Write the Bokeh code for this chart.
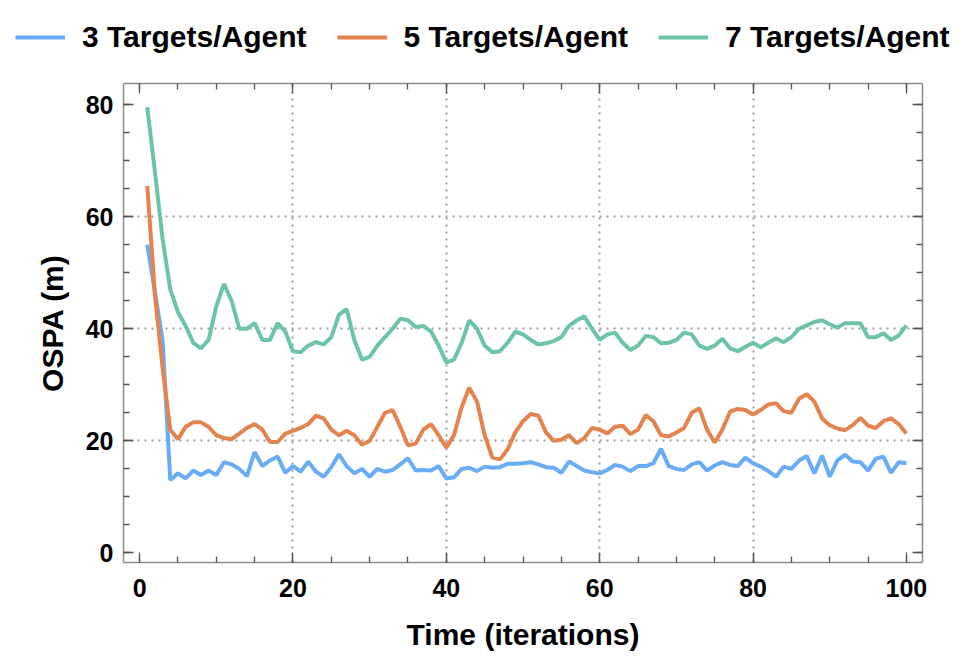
from bokeh.plotting import figure
from bokeh.models import (Range1d, LinearAxis, SingleIntervalTicker, FixedTicker,
                          Legend, LegendItem, CustomJSTickFormatter, Grid)
from bokeh.embed import file_html
from bokeh.resources import INLINE

iterations = list(range(1, 101))

targets3 = [55, 46.5, 38, 13.0, 14.2, 13.3, 14.7, 13.9, 14.7, 13.9,
            16.2, 15.8, 15.0, 13.7, 18.0, 15.5, 16.5, 17.2, 14.3, 15.5,
            14.5, 16.3, 14.5, 13.6, 15.3, 17.6, 15.5, 14.2, 15.0, 13.6,
            15.0, 14.5, 14.8, 15.8, 16.9, 14.7, 14.8, 14.7, 15.5, 13.3,
            13.5, 15.0, 15.2, 14.6, 15.4, 15.2, 15.3, 15.9, 15.9, 16.0,
            16.2, 15.8, 15.3, 15.2, 14.3, 16.3, 15.5, 14.7, 14.4, 14.2,
            14.8, 15.7, 15.4, 14.6, 15.5, 15.5, 16.0, 18.6, 15.5, 15.0,
            14.8, 15.8, 16.2, 14.7, 15.6, 16.2, 15.7, 15.5, 17.0, 16.0,
            15.4, 14.6, 13.6, 15.4, 15.0, 16.5, 17.3, 14.2, 17.4, 13.6,
            16.5, 17.5, 16.3, 16.2, 14.7, 16.8, 17.2, 14.3, 16.2, 16.0]

targets5 = [65.5, 46, 33, 22, 20.3, 22.5, 23.3, 23.3, 22.5, 21,
            20.5, 20.3, 21.3, 22.3, 23, 22, 19.8, 19.8, 21.3, 21.8,
            22.3, 23, 24.5, 24, 22, 21, 21.8, 21, 19.3, 20,
            22.5, 25, 25.5, 22.5, 19.2, 19.5, 22, 23, 21, 18.8,
            21, 26, 29.5, 27, 21, 17, 16.7, 18.5, 21.5, 23.5,
            24.8, 24.5, 21.5, 20, 20.2, 21, 19.6, 20.5, 22.3, 22,
            21.3, 22.5, 22.7, 21.2, 22, 24.6, 23.5, 21, 20.8, 21.5,
            22.3, 25, 25.8, 22, 19.7, 22, 25.2, 25.7, 25.5, 24.7,
            25.5, 26.5, 26.7, 25.3, 25, 27.5, 28.3, 27, 24, 22.8,
            22.2, 21.9, 22.8, 24.1, 22.7, 22.3, 23.5, 24, 23, 21.3]

targets7 = [79.5, 68, 56, 47, 43, 40.5, 37.5, 36.5, 38, 44,
            48, 45, 40, 40, 41, 38, 38, 41, 39.5, 36,
            35.8, 37, 37.6, 37.2, 38.5, 42.5, 43.5, 38, 34.5, 35,
            37, 38.5, 40, 41.8, 41.5, 40.3, 40.5, 39.5, 37, 34,
            34.5, 37.5, 41.5, 40, 37, 35.8, 36, 37.5, 39.5, 39,
            38, 37.2, 37.4, 37.8, 38.5, 40.5, 41.5, 42.2, 40, 38,
            39, 39.3, 37.5, 36.2, 37, 38.7, 38.5, 37.4, 37.5, 38,
            39.3, 39, 37, 36.4, 37, 38.2, 36.5, 36, 36.8, 37.5,
            36.7, 37.5, 38.3, 37.6, 38.5, 40, 40.6, 41.2, 41.5, 40.8,
            40.2, 41, 41, 41, 38.5, 38.5, 39.2, 38, 38.8, 40.6]

series_labels = ["3 Targets/Agent", "5 Targets/Agent", "7 Targets/Agent"]
series_colors = ["#68acf8", "#e5834f", "#6cc4a8"]
x_grid_ticks = [20, 40, 60, 80]
y_grid_ticks = [20, 40, 60]

# visible plot box in data units
X0, X1 = -2.1, 102.1
Y0, Y1 = -1.7, 83.8

FONT = "Liberation Sans"
LINE_W = 4

# The frame covers the whole canvas so that the legend above the box is not
# clipped; the box itself is drawn by axes with fixed locations.
W, H = 965, 659
BOX_L, BOX_R, BOX_T, BOX_B = 123, 922, 82.7, 562   # pixel edges of the visible box
sx = (BOX_R - BOX_L) / (X1 - X0)
sy = (BOX_B - BOX_T) / (Y1 - Y0)
x_range = Range1d(X0 - BOX_L / sx, X1 + (W - BOX_R) / sx)
y_range = Range1d(Y0 - (H - BOX_B) / sy, Y1 + BOX_T / sy)

p = figure(width=W, height=H, output_backend="svg", toolbar_location=None,
           x_range=x_range, y_range=y_range,
           x_axis_type=None, y_axis_type=None,
           min_border_left=0, min_border_right=0, min_border_top=0,
           min_border_bottom=0)
p.background_fill_color = "white"
p.border_fill_color = "white"
p.outline_line_color = None

# grid (dotted, only inside the box)
grid_style = dict(line_color="#9a9a9a", line_width=2, line_dash="2 5")
if "cross_bounds" in Grid.properties():
    gx = Grid(dimension=0, ticker=FixedTicker(ticks=x_grid_ticks), bounds=(X0, X1), cross_bounds=(Y0, Y1))
    gy = Grid(dimension=1, ticker=FixedTicker(ticks=y_grid_ticks), bounds=(Y0, Y1), cross_bounds=(X0, X1))
    for g in (gx, gy):
        g.grid_line_color = grid_style["line_color"]
        g.grid_line_width = grid_style["line_width"]
        g.grid_line_dash = grid_style["line_dash"]
        p.add_layout(g)
else:
    p.segment(x0=x_grid_ticks, y0=[Y0] * len(x_grid_ticks), x1=x_grid_ticks, y1=[Y1] * len(x_grid_ticks), **grid_style)
    p.segment(x0=[X0] * len(y_grid_ticks), y0=y_grid_ticks, x1=[X1] * len(y_grid_ticks), y1=y_grid_ticks, **grid_style)

renderers = []
for ys, col in zip([targets3, targets5, targets7], series_colors):
    r = p.line(iterations, ys, line_color=col, line_width=LINE_W)
    renderers.append(r)

def make_axis(bounds, fixed, labels=True, title=None):
    ax = LinearAxis(ticker=SingleIntervalTicker(interval=20, num_minor_ticks=4), bounds=bounds)
    ax.fixed_location = fixed
    ax.axis_line_color = "#8c8c8c"
    ax.axis_line_width = 1.5
    ax.major_tick_in = 10
    ax.major_tick_out = 0
    ax.minor_tick_in = 6
    ax.minor_tick_out = 0
    ax.major_tick_line_color = "#555555"
    ax.minor_tick_line_color = "#555555"
    ax.major_tick_line_width = 1.3
    ax.minor_tick_line_width = 1.3
    if labels:
        ax.major_label_text_font = FONT
        ax.major_label_text_font_style = "bold"
        ax.major_label_text_font_size = "25px"
        ax.major_label_text_color = "black"
        ax.axis_label = title
        ax.axis_label_text_font = FONT
        ax.axis_label_text_font_style = "bold"
        ax.axis_label_text_font_size = "30px"
        ax.axis_label_text_color = "black"
    else:
        ax.formatter = CustomJSTickFormatter(code="return ''")
        ax.major_label_standoff = 0
    return ax

bottom_ax = make_axis((X0, X1), Y0, title="Time (iterations)")
bottom_ax.major_label_standoff = 16
bottom_ax.axis_label_standoff = 18
left_ax = make_axis((Y0, Y1), X0, title="OSPA (m)")
left_ax.major_label_standoff = 10
left_ax.axis_label_standoff = 14
top_ax = make_axis((X0, X1), Y1, labels=False)
right_ax = make_axis((Y0, Y1), X1, labels=False)
p.add_layout(bottom_ax, "below")
p.add_layout(left_ax, "left")
p.add_layout(top_ax, "above")
p.add_layout(right_ax, "right")

legend = Legend(items=[LegendItem(label=l, renderers=[r]) for l, r in zip(series_labels, renderers)],
                orientation="horizontal", location=(15, H - 54))
legend.label_text_font = FONT
legend.label_text_font_style = "bold"
legend.label_text_font_size = "30px"
legend.label_text_color = "black"
legend.glyph_width = 50
legend.glyph_height = 30
legend.label_height = 30
legend.label_standoff = 17
legend.spacing = 30
legend.padding = 0
legend.margin = 0
legend.border_line_color = None
legend.background_fill_alpha = 0
p.add_layout(legend, "center")

open("out.html", "w").write(file_html(p, INLINE))
